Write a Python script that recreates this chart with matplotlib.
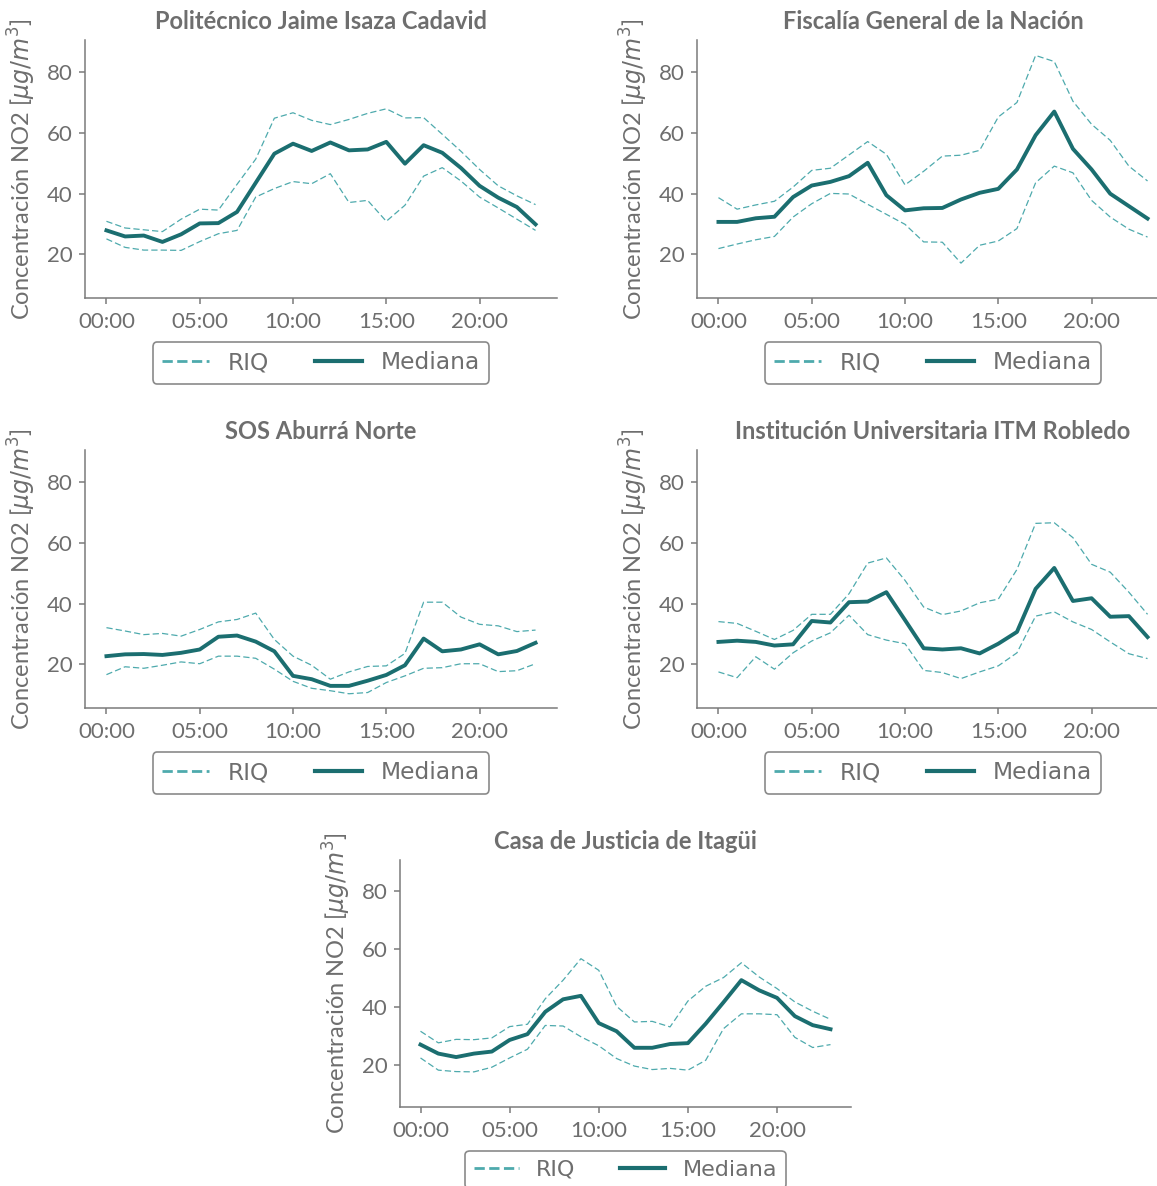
import matplotlib.pyplot as plt
from matplotlib.lines import Line2D
from matplotlib.ticker import FuncFormatter, MultipleLocator

horas = list(range(24))

estaciones = ["Politécnico Jaime Isaza Cadavid",
              "Fiscalía General de la Nación",
              "SOS Aburrá Norte",
              "Institución Universitaria ITM Robledo",
              "Casa de Justicia de Itagüi"]

# mediana y rango intercuartil (q25 / q75) por hora
med_poli = [27.9, 25.9, 26.2, 24.1, 26.6, 30.2, 30.3, 34.0, 43.6, 53.2, 56.5, 54.1,
            56.9, 54.3, 54.6, 57.1, 49.9, 56.0, 53.5, 48.5, 42.6, 38.7, 35.6, 29.9]
q75_poli = [30.9, 28.7, 28.1, 27.5, 31.6, 34.9, 34.6, 43.1, 51.4, 64.9, 66.7, 64.2,
            62.8, 64.5, 66.5, 68.0, 65.0, 65.1, 59.6, 54.0, 48.0, 42.6, 39.3, 36.4]
q25_poli = [25.1, 22.3, 21.4, 21.4, 21.3, 24.2, 26.8, 27.9, 38.9, 41.7, 44.0, 43.3,
            46.6, 37.1, 37.8, 30.9, 36.2, 45.8, 48.6, 44.2, 38.9, 35.3, 31.6, 27.9]

med_fisc = [30.7, 30.7, 31.9, 32.4, 38.9, 42.7, 43.9, 45.8, 50.2, 39.5, 34.5, 35.2,
            35.3, 38.1, 40.3, 41.6, 48.0, 59.3, 67.1, 54.8, 48.0, 40.0, 35.9, 31.8]
q75_fisc = [38.7, 34.9, 36.3, 37.5, 42.2, 47.7, 48.4, 52.8, 57.2, 53.0, 42.9, 47.4,
            52.4, 52.7, 54.3, 65.3, 70.1, 85.6, 83.6, 70.5, 62.9, 57.6, 49.1, 44.2]
q25_fisc = [21.9, 23.4, 24.8, 25.9, 32.3, 36.7, 40.1, 39.9, 36.5, 33.2, 29.9, 24.1,
            24.0, 17.1, 23.0, 24.4, 28.5, 43.6, 49.1, 46.9, 37.8, 32.3, 28.3, 25.7]

med_sos = [22.7, 23.3, 23.4, 23.1, 23.8, 24.9, 29.1, 29.5, 27.5, 24.3, 16.2, 15.1,
           12.9, 12.9, 14.6, 16.5, 19.7, 28.5, 24.3, 24.9, 26.6, 23.3, 24.4, 27.1]
q75_sos = [32.1, 31.0, 29.8, 30.2, 29.3, 31.5, 34.0, 34.8, 36.9, 28.2, 22.7, 19.7,
           15.1, 17.5, 19.3, 19.5, 23.6, 40.5, 40.5, 35.6, 33.2, 32.7, 30.8, 31.3]
q25_sos = [16.6, 19.2, 18.7, 19.7, 20.8, 20.2, 22.7, 22.7, 22.0, 18.4, 14.4, 12.1,
           11.3, 10.3, 10.7, 14.0, 16.2, 18.7, 18.9, 20.2, 20.2, 17.6, 17.9, 20.2]

med_itm = [27.4, 27.8, 27.4, 26.2, 26.6, 34.3, 33.8, 40.5, 40.7, 43.8, 34.6, 25.3,
           24.9, 25.3, 23.6, 26.8, 30.7, 44.9, 51.8, 40.9, 41.8, 35.7, 35.9, 29.0]
q75_itm = [34.1, 33.5, 30.9, 28.2, 31.2, 36.5, 36.5, 43.3, 53.4, 55.1, 47.7, 38.9,
           36.4, 37.6, 40.3, 41.5, 51.3, 66.5, 66.7, 61.8, 53.0, 50.4, 43.8, 36.5]
q25_itm = [17.5, 15.6, 22.5, 18.4, 23.8, 27.7, 30.4, 36.2, 29.8, 28.0, 26.8, 18.0,
           17.3, 15.3, 17.5, 19.5, 23.8, 35.9, 37.3, 34.0, 31.5, 27.4, 23.5, 21.9]

med_itag = [27.1, 24.0, 22.8, 24.0, 24.7, 28.7, 30.7, 38.4, 42.7, 43.9, 34.5, 31.7,
            26.0, 26.0, 27.3, 27.6, 34.3, 41.7, 49.3, 45.8, 43.2, 36.9, 33.8, 32.4]
q75_itag = [31.7, 27.7, 28.9, 28.8, 29.4, 33.3, 34.1, 42.9, 49.3, 56.7, 52.7, 40.3,
            34.9, 35.1, 33.2, 42.1, 47.2, 50.2, 55.3, 50.4, 46.4, 41.8, 38.6, 35.8]
q25_itag = [22.5, 18.3, 17.8, 17.7, 19.3, 22.5, 25.5, 33.7, 33.5, 29.8, 26.7, 22.3,
            19.7, 18.5, 18.9, 18.3, 21.7, 32.6, 37.7, 37.7, 37.4, 29.6, 26.1, 27.1]

medianas = [med_poli, med_fisc, med_sos, med_itm, med_itag]
q75s = [q75_poli, q75_fisc, q75_sos, q75_itm, q75_itag]
q25s = [q25_poli, q25_fisc, q25_sos, q25_itm, q25_itag]

c_med = '#1b6e70'
c_riq = '#4eaaad'
c_txt = '#6e6e6e'
c_eje = '#7a7a7a'

plt.rcParams['font.family'] = ['Lato', 'DejaVu Sans']
plt.rcParams['mathtext.fontset'] = 'dejavusans'

W, H = 1157, 1186
fig = plt.figure(figsize=(W / 100, H / 100), dpi=100)

# (izq, arriba, der, abajo) en pixeles
cajas = [(85, 40, 557, 298), (697, 40, 1169, 298),
         (85, 450, 557, 708), (697, 450, 1169, 708),
         (400, 860, 851, 1107)]
tam_leyenda = [16.8, 16.8, 16.8, 16.8, 16.0]

for i, (l, t, r, b) in enumerate(cajas):
	ax = fig.add_axes([l / W, 1 - b / H, (r - l) / W, (b - t) / H])
	ax.plot(horas, q75s[i], color = c_riq, ls = (0, (5, 2.5)), lw = 0.9)
	ax.plot(horas, q25s[i], color = c_riq, ls = (0, (5, 2.5)), lw = 0.9)
	ax.plot(horas, medianas[i], color = c_med, lw = 2.8)

	ax.set_xlim(-1.15, 24.15)
	ax.set_ylim(5.6, 90.7)
	ax.xaxis.set_major_locator(MultipleLocator(5))
	ax.xaxis.set_major_formatter(FuncFormatter(lambda v, p: "%02d:00" % int(v)))
	ax.set_yticks([20, 40, 60, 80])

	for s in ['top', 'right']:
		ax.spines[s].set_visible(False)
	for s in ['left', 'bottom']:
		ax.spines[s].set_color(c_eje)
		ax.spines[s].set_linewidth(1.1)
	ax.tick_params(colors = c_eje, labelcolor = c_txt, labelsize = 16, width = 1.1, length = 4)
	ax.tick_params(axis = 'x', pad = 6)
	ax.tick_params(axis = 'y', pad = 5)

	ax.set_ylabel(r"Concentración NO2 [$\mu g/m^3$]", color = c_txt, fontsize = 17, labelpad = 6)
	ax.set_title(estaciones[i], color = c_txt, fontsize = 17, fontweight = 'bold', pad = 8)

	handles = [Line2D([], [], color = c_riq, ls = '--', lw = 2),
	           Line2D([], [], color = c_med, lw = 3)]
	leg = ax.legend(handles, ["RIQ", "Mediana"], loc = 'upper center',
	                bbox_to_anchor = (0.5, -44 / (b - t)), borderaxespad = 0,
	                ncol = 2, prop = {'family': 'DejaVu Sans', 'size': tam_leyenda[i]}, frameon = True,
	                edgecolor = '#8a8a8a', fancybox = True, framealpha = 1)
	leg.get_frame().set_linewidth(1.2)
	for txt in leg.get_texts():
		txt.set_color(c_txt)

fig.savefig("out.png", dpi = 100)
